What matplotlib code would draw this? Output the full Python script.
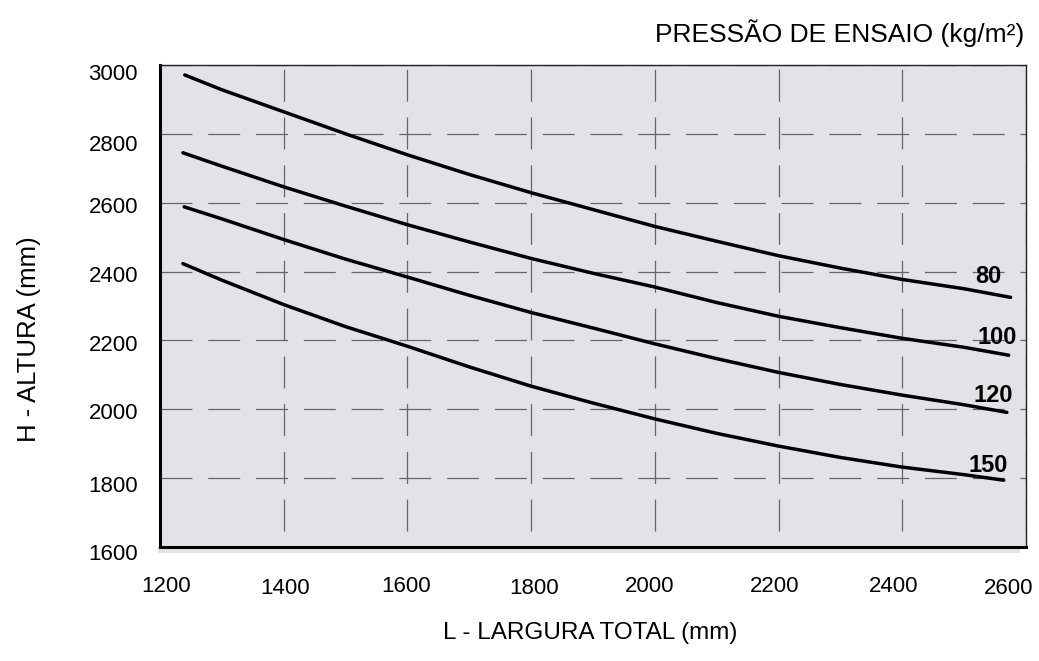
import matplotlib
matplotlib.use("Agg")
import matplotlib.pyplot as plt
from matplotlib.patches import Rectangle

plt.rcParams["font.family"] = ["Liberation Sans", "DejaVu Sans"]
plt.rcParams["lines.scale_dashes"] = False

# curves: largura (mm) -> altura (mm), one per test pressure
pressures = ["80", "100", "120", "150"]

x_80 = [1240, 1300, 1400, 1500, 1600, 1700, 1800, 1900, 2000, 2100, 2200, 2300, 2400, 2500, 2575]
h_80 = [2971, 2928, 2864, 2800, 2739, 2682, 2629, 2580, 2531, 2488, 2446, 2410, 2377, 2350, 2325]

x_100 = [1237, 1300, 1400, 1500, 1600, 1700, 1800, 1900, 2000, 2100, 2200, 2300, 2400, 2500, 2572]
h_100 = [2745, 2706, 2646, 2590, 2536, 2486, 2438, 2395, 2355, 2310, 2270, 2237, 2206, 2180, 2157]

x_120 = [1239, 1300, 1400, 1500, 1600, 1700, 1800, 1900, 2000, 2100, 2200, 2300, 2400, 2500, 2569]
h_120 = [2588, 2553, 2493, 2436, 2384, 2331, 2281, 2236, 2190, 2147, 2107, 2072, 2041, 2013, 1991]

x_150 = [1237, 1300, 1400, 1500, 1600, 1700, 1800, 1900, 2000, 2100, 2200, 2300, 2400, 2500, 2564]
h_150 = [2423, 2375, 2304, 2240, 2183, 2123, 2067, 2018, 1972, 1930, 1893, 1860, 1832, 1810, 1794]

# where the pressure labels sit
label_x = [2539, 2554, 2547, 2539]
label_y = [2386, 2209, 2041, 1838]

x_ticks = [1200, 1400, 1600, 1800, 2000, 2200, 2400, 2600]
y_ticks = [1600, 1800, 2000, 2200, 2400, 2600, 2800, 3000]

# the scanned labels are a bit off their ticks (pixels)
x_lab_dx = [6, 1, -1, 3, -5, -4, -9, -17]
x_lab_dy = [0, 2, 0, 2, 0, 0, 0, 2]
y_lab_dy = [8, 8, 4, 5, 5, 5, 12, 10]

bg = "#e2e3e7"

fig = plt.figure(figsize=(10.39, 6.61), dpi=100)
ax = fig.add_axes([0.154, 0.1725, 0.8335, 0.7292])
ax.set_facecolor(bg)

# little drop shadow under the bottom edge
ax.add_patch(Rectangle((-0.002, -0.013), 0.995, 0.013, transform=ax.transAxes,
                       facecolor=bg, edgecolor="none", clip_on=False, zorder=0))

curves = [(x_80, h_80), (x_100, h_100), (x_120, h_120), (x_150, h_150)]
for (xs, hs) in curves:
    ax.plot(xs, hs, color="black", lw=2.5, solid_capstyle="round", zorder=3)

for name, lx, ly in zip(pressures, label_x, label_y):
    ax.text(lx, ly, name, fontsize=17, fontweight="bold", ha="center", va="center", zorder=4)

ax.set_xlim(1200, 2600)
ax.set_ylim(1600, 3000)
ax.set_xticks(x_ticks)
ax.set_yticks(y_ticks)
ax.tick_params(length=0, labelbottom=False, labelleft=False)

ax.xaxis.grid(True, color="#666666", lw=0.9, linestyle=(23, (23, 11.4)))
ax.yaxis.grid(True, color="#666666", lw=0.9, linestyle=(0, (23, 11.4)))
ax.set_axisbelow(True)

for side in ["left", "bottom"]:
    ax.spines[side].set_linewidth(2.2)
    ax.spines[side].set_color("black")
for side in ["top", "right"]:
    ax.spines[side].set_linewidth(1.0)
    ax.spines[side].set_color("#222222")

for v, dx, dy in zip(x_ticks, x_lab_dx, x_lab_dy):
    ax.annotate(str(v), xy=(v, 0), xycoords=ax.get_xaxis_transform(),
                xytext=(dx, -29 - dy), textcoords="offset pixels",
                ha="center", va="top", fontsize=16, annotation_clip=False)

for v, dy in zip(y_ticks, y_lab_dy):
    ax.annotate(str(v), xy=(0, v), xycoords=ax.get_yaxis_transform(),
                xytext=(-22, -dy), textcoords="offset pixels",
                ha="right", va="center", fontsize=16, annotation_clip=False)

fig.text(29 / 1039, 1 - 339 / 661, "H - ALTURA (mm)", rotation=90,
         ha="center", va="center", fontsize=18.5)
fig.text(590 / 1039, 1 - 633 / 661, "L - LARGURA TOTAL (mm)",
         ha="center", va="center", fontsize=17.5)
fig.text(1024 / 1039, 1 - 33 / 661, "PRESSÃO DE ENSAIO (kg/m²)",
         ha="right", va="center", fontsize=19)

fig.savefig("out.png", dpi=100)
plt.close(fig)
